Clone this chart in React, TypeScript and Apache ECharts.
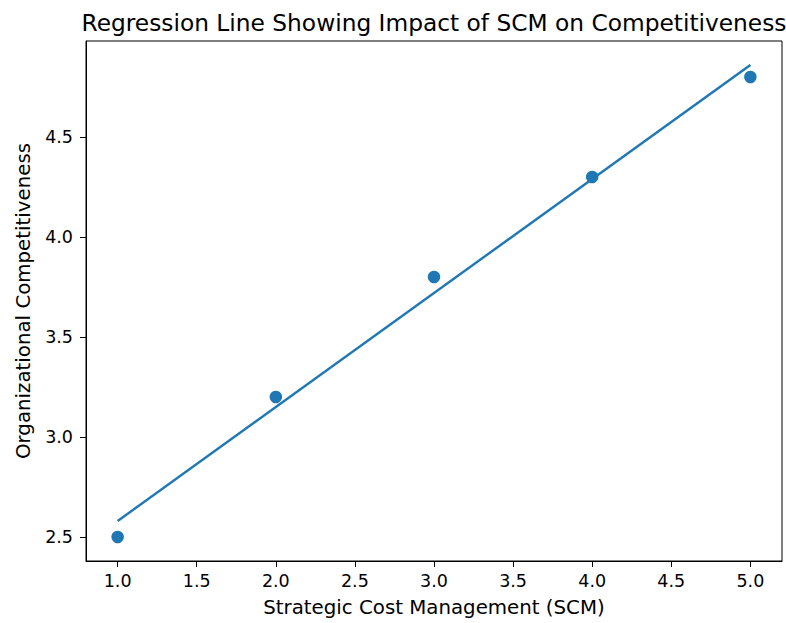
import React, { useEffect, useRef } from "react";
import * as echarts from "echarts";

const scmValues = [1, 2, 3, 4, 5];
const competitiveness = [2.5, 3.2, 3.8, 4.3, 4.8];
const regressionX = [1, 5];
const regressionY = [2.58, 4.86];
const xTicks = [1.0, 1.5, 2.0, 2.5, 3.0, 3.5, 4.0, 4.5, 5.0];
const yTicks = [2.5, 3.0, 3.5, 4.0, 4.5];

const FONT = "DejaVu Sans";

export default function App() {
  const ref = useRef<HTMLDivElement>(null);
  useEffect(() => {
    document.body.style.margin = "0";
    const chart = echarts.init(ref.current!, null, { renderer: "svg" });
    chart.setOption({
      animation: false,
      backgroundColor: "#ffffff",
      textStyle: { fontFamily: FONT },
      graphic: [
        {
          type: "text",
          x: 434,
          y: 22,
          style: {
            text: "Regression Line Showing Impact of SCM on Competitiveness",
            fontFamily: FONT,
            fontSize: 23.3,
            fill: "#000",
            textAlign: "center",
            textVerticalAlign: "middle",
          },
        },
      ],
      grid: {
        left: 86,
        top: 41,
        right: 4,
        bottom: 62,
        show: true,
        borderColor: "#000",
        borderWidth: 1,
      },
      xAxis: {
        type: "value",
        min: 0.8,
        max: 5.2,
        name: "Strategic Cost Management (SCM)",
        nameLocation: "middle",
        nameGap: 36,
        nameTextStyle: { color: "#000", fontSize: 19.8, fontFamily: FONT },
        axisLine: { show: true, lineStyle: { color: "#000", width: 1 } },
        axisTick: { show: true, customValues: xTicks, length: 6, lineStyle: { color: "#000" } },
        axisLabel: {
          customValues: xTicks,
          formatter: (v: number) => v.toFixed(1),
          color: "#000",
          fontSize: 17.5,
          fontFamily: FONT,
          margin: 11,
        },
        splitLine: { show: false },
      },
      yAxis: {
        type: "value",
        min: 2.38,
        max: 4.98,
        name: "Organizational Competitiveness",
        nameLocation: "middle",
        nameGap: 53,
        nameRotate: 90,
        nameTextStyle: { color: "#000", fontSize: 19.8, fontFamily: FONT },
        axisLine: { show: true, lineStyle: { color: "#000", width: 1 } },
        axisTick: { show: true, customValues: yTicks, length: 6, lineStyle: { color: "#000" } },
        axisLabel: {
          customValues: yTicks,
          formatter: (v: number) => v.toFixed(1),
          color: "#000",
          fontSize: 17.5,
          fontFamily: FONT,
          margin: 13,
        },
        splitLine: { show: false },
      },
      series: [
        {
          type: "scatter",
          data: scmValues.map((x, i) => [x, competitiveness[i]]),
          symbolSize: 12.5,
          itemStyle: { color: "#1f77b4", opacity: 1 },
          z: 2,
        },
        {
          type: "line",
          data: regressionX.map((x, i) => [x, regressionY[i]]),
          showSymbol: false,
          symbol: "none",
          lineStyle: { color: "#1f77b4", width: 2.4 },
          z: 3,
        },
      ],
    });
    return () => chart.dispose();
  }, []);
  return <div ref={ref} style={{ width: 786, height: 623 }} />;
}
